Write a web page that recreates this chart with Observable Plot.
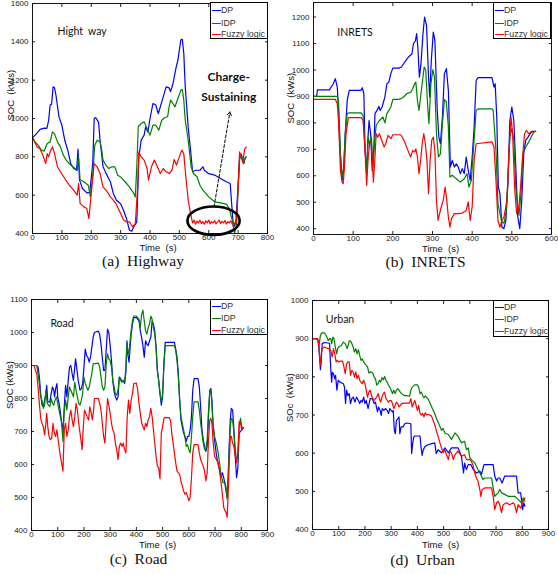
<!DOCTYPE html>
<html><head><meta charset="utf-8">
<script src="https://cdn.jsdelivr.net/npm/d3@7"></script>
<script src="https://cdn.jsdelivr.net/npm/@observablehq/plot@0.6"></script>
<style>
body{margin:0;background:#fff;}
#wrap{position:relative;width:558px;height:574px;overflow:hidden;background:#fff;}
.panel{position:absolute;}
.legend{position:absolute;background:#fff;border:1px solid #000;box-sizing:border-box;font:8.8px "Liberation Sans",Arial,sans-serif;color:#333;overflow:hidden;}
.legend .sw{position:absolute;height:0;border-top:1.3px solid;}
.legend .lb{position:absolute;line-height:10px;white-space:nowrap;}
</style></head>
<body><div id="wrap"></div>
<script>
// ---------------- data ----------------
const seriesNames = ["DP", "IDP", "Fuzzy logic"];
const seriesColors = ["#0000ff", "#008000", "#ff0000"];

// (a) Highway : [time s, SOC kWs]
const hwDP = [[0,900],[10,915],[26,943],[40,950],[49,948],[55,990],[60,1070],[65,1075],[70,1165],[75,1160],[80,1120],[90,1010],[100,965],[110,885],[120,835],[130,765],[140,740],[150,730],[155,840],[160,680],[170,635],[185,612],[195,615],[205,765],[210,1000],[215,1005],[225,980],[230,885],[240,750],[250,715],[265,670],[275,610],[285,575],[300,555],[310,520],[320,478],[330,417],[338,412],[345,435],[355,460],[362,800],[370,887],[380,913],[385,955],[393,930],[400,1000],[410,1078],[420,1070],[428,1025],[435,1060],[445,1113],[455,1165],[465,1160],[470,1140],[478,1180],[488,1260],[495,1305],[505,1410],[510,1413],[515,1340],[520,1165],[530,955],[538,835],[545,722],[555,730],[570,730],[580,748],[585,730],[600,712],[620,705],[640,687],[660,670],[673,661],[684,431],[692,455],[700,650],[705,790],[710,815],[715,790],[719,765],[723,790],[727,800]];
const hwIDP = [[0,900],[10,875],[20,860],[30,835],[40,830],[50,870],[60,878],[68,930],[75,920],[85,878],[95,852],[105,809],[115,783],[130,757],[145,739],[152,730],[157,800],[162,680],[175,670],[190,652],[197,591],[205,704],[212,861],[220,887],[230,878],[235,843],[240,783],[250,757],[260,739],[270,748],[280,748],[290,704],[300,695],[315,670],[330,643],[345,609],[350,591],[355,748],[360,957],[370,974],[380,983],[390,948],[400,913],[410,965],[420,965],[430,939],[440,991],[450,1005],[460,1009],[465,1061],[470,1096],[478,1078],[485,1061],[495,1104],[505,1148],[510,1151],[515,1096],[520,991],[530,887],[540,748],[548,713],[560,696],[570,652],[580,626],[590,609],[600,591],[610,579],[620,565],[640,560],[660,553],[670,530],[680,470],[688,400],[695,452],[700,640],[705,790],[710,812],[715,790],[719,765],[723,790],[727,800]];
const hwFL = [[0,900],[10,870],[15,852],[25,843],[35,809],[45,765],[50,817],[55,800],[60,826],[68,852],[75,817],[85,748],[95,722],[110,687],[125,652],[140,626],[152,600],[157,661],[162,557],[175,539],[185,530],[192,478],[200,609],[210,765],[220,748],[230,713],[240,643],[255,617],[265,591],[275,574],[285,553],[300,504],[310,470],[320,461],[330,461],[340,435],[350,452],[358,643],[362,826],[370,800],[380,783],[390,739],[395,678],[405,748],[415,783],[425,748],[435,713],[445,739],[455,722],[465,713],[475,730],[482,786],[490,757],[500,800],[508,835],[515,817],[522,696],[530,574],[538,504],[545,455],[550,470],[555,448],[560,465],[565,455],[570,470],[575,452],[580,462],[585,448],[590,466],[595,455],[600,470],[605,450],[610,462],[615,455],[620,468],[625,450],[630,460],[635,470],[640,452],[645,463],[650,455],[655,468],[660,450],[665,462],[670,455],[675,466],[680,450],[685,460],[690,445],[695,478],[700,640],[705,826],[710,800],[716,770],[722,840],[728,850]];

// (b) INRETS
const inDP = [[0,900],[8,900],[10,925],[40,925],[50,948],[55,967],[60,935],[63,847],[68,671],[72,583],[76,620],[80,759],[85,885],[90,923],[120,923],[123,933],[127,910],[130,696],[134,608],[137,734],[140,809],[144,759],[148,620],[152,696],[155,835],[160,847],[165,862],[168,847],[173,860],[180,898],[185,948],[190,954],[195,986],[200,1007],[215,1007],[222,1011],[230,1030],[240,1050],[248,1060],[252,1100],[257,1110],[260,1137],[263,1087],[267,973],[271,1024],[276,1137],[280,1200],[285,1168],[290,973],[293,898],[297,1036],[302,1143],[306,1112],[312,847],[316,746],[320,721],[325,822],[330,986],[335,1005],[340,923],[345,633],[350,658],[355,633],[360,645],[365,633],[370,608],[375,627],[380,608],[385,671],[390,620],[395,583],[400,671],[405,784],[410,961],[415,971],[450,971],[455,935],[458,948],[462,822],[466,557],[470,532],[475,406],[480,400],[485,431],[490,570],[495,809],[500,860],[505,809],[510,633],[515,444],[520,400],[525,507],[530,683],[535,734],[540,744],[550,768],[560,768]];
const inIDP = [[0,900],[60,900],[63,885],[68,683],[72,595],[76,633],[80,759],[85,835],[90,838],[120,838],[125,828],[130,696],[134,620],[138,746],[141,721],[146,746],[150,633],[154,734],[158,790],[165,807],[175,822],[180,800],[185,835],[190,847],[195,860],[200,889],[215,889],[225,895],[235,910],[245,916],[250,929],[255,948],[258,954],[262,885],[266,847],[270,898],[275,961],[279,1011],[283,999],[288,860],[291,797],[296,948],[301,1001],[305,973],[310,759],[315,671],[320,683],[325,797],[330,888],[335,879],[340,784],[344,595],[350,602],[355,595],[360,589],[370,576],[380,589],[387,608],[392,557],[398,583],[403,696],[410,847],[415,853],[450,853],[453,847],[460,696],[465,494],[470,457],[475,425],[480,421],[485,457],[490,583],[495,746],[500,778],[505,734],[510,557],[515,482],[518,450],[523,532],[528,683],[535,709],[545,734],[555,765],[560,768]];
const inFL = [[0,889],[55,889],[60,872],[63,809],[68,620],[72,576],[75,570],[78,633],[82,759],[88,820],[120,820],[125,809],[130,696],[134,564],[138,671],[142,728],[146,721],[151,576],[155,671],[158,759],[162,746],[166,759],[172,734],[178,709],[182,721],[188,753],[195,740],[200,755],[220,755],[228,734],[238,696],[245,671],[250,696],[255,690],[258,702],[262,671],[266,608],[270,658],[274,721],[278,759],[282,721],[286,658],[290,532],[294,658],[298,734],[302,746],[306,696],[310,507],[314,431],[318,457],[322,482],[327,507],[332,557],[336,507],[340,444],[344,406],[348,438],[355,457],[365,457],[375,459],[385,469],[390,501],[395,431],[400,482],[405,658],[410,721],[450,728],[455,709],[460,583],[465,431],[470,406],[475,431],[480,444],[488,507],[493,696],[498,822],[502,759],[507,557],[512,457],[517,469],[522,557],[527,671],[532,759],[537,772],[542,759],[547,765],[560,768]];

// (c) Road
const rdDP = [[0,900],[20,900],[25,895],[30,865],[35,815],[40,780],[45,775],[55,815],[58,840],[62,790],[70,790],[75,815],[80,835],[85,825],[88,805],[92,830],[97,845],[100,805],[105,785],[110,760],[115,725],[120,705],[125,775],[130,840],[135,805],[140,855],[145,895],[150,900],[155,875],[160,855],[165,895],[168,920],[172,895],[178,855],[185,825],[190,830],[195,845],[200,895],[205,950],[210,930],[215,925],[220,910],[225,925],[230,955],[235,985],[240,1000],[255,1004],[260,995],[265,965],[270,925],[275,885],[280,885],[285,950],[290,1010],[295,1000],[300,960],[305,915],[310,855],[315,820],[320,805],[325,795],[330,805],[335,865],[340,860],[345,850],[350,855],[355,845],[360,880],[364,975],[368,930],[372,910],[376,955],[380,995],[385,1025],[390,1045],[400,1045],[410,1035],[415,1005],[420,985],[425,960],[430,925],[435,975],[440,965],[445,960],[450,975],[455,985],[460,1035],[465,1025],[470,1005],[475,955],[480,885],[485,855],[490,815],[495,780],[500,805],[505,905],[510,970],[545,970],[550,950],[555,925],[560,875],[565,795],[570,735],[575,715],[580,695],[585,685],[590,670],[595,685],[600,685],[605,705],[610,745],[615,825],[620,860],[635,860],[640,835],[645,775],[650,705],[655,675],[660,655],[665,640],[670,655],[675,745],[680,825],[684,830],[688,795],[692,725],[698,675],[705,630],[712,600],[718,580],[722,560],[728,575],[733,560],[738,540],[742,520],[746,500],[750,560],[754,655],[758,735],[762,770],[767,765],[772,705],[777,625],[782,560],[787,590],[792,695],[797,700],[802,705],[808,710]];
const rdIDP = [[0,900],[20,900],[25,875],[30,845],[35,805],[40,795],[45,770],[50,780],[55,825],[60,785],[65,780],[70,775],[75,800],[80,785],[85,780],[90,795],[95,805],[100,785],[105,765],[110,745],[115,725],[120,670],[125,765],[130,795],[135,765],[140,805],[145,835],[150,825],[155,815],[160,805],[165,850],[170,825],[175,805],[180,785],[185,780],[190,795],[195,815],[200,865],[205,845],[210,835],[215,825],[220,835],[225,855],[230,875],[235,905],[255,907],[260,895],[265,865],[270,835],[275,825],[280,835],[285,905],[290,935],[295,920],[300,915],[305,895],[310,855],[315,835],[320,815],[325,810],[330,825],[335,865],[340,855],[345,850],[350,855],[355,850],[360,895],[364,965],[368,945],[372,935],[376,975],[380,1005],[385,1035],[390,1050],[400,1050],[410,1040],[415,1015],[420,1055],[425,1068],[430,1035],[435,1005],[440,995],[445,1015],[450,1025],[455,1050],[460,1040],[465,1015],[470,995],[475,955],[480,885],[485,855],[490,815],[495,790],[500,815],[505,905],[510,960],[545,960],[550,945],[555,915],[560,865],[565,795],[570,745],[575,725],[580,705],[585,685],[590,655],[595,660],[600,645],[605,635],[610,685],[615,745],[620,790],[635,790],[640,765],[645,725],[650,695],[655,665],[660,645],[665,645],[670,675],[675,765],[680,825],[684,825],[688,785],[692,725],[698,685],[705,665],[712,635],[718,600],[722,575],[730,545],[738,545],[742,530],[746,495],[750,560],[754,645],[758,715],[762,740],[767,735],[772,695],[777,645],[782,615],[787,625],[792,715],[797,740],[802,715],[808,710]];
const rdFL = [[0,900],[10,900],[15,885],[20,875],[25,835],[30,785],[35,740],[40,725],[45,715],[50,690],[55,725],[58,755],[62,715],[67,685],[72,675],[77,680],[82,725],[87,695],[92,685],[97,705],[100,685],[105,655],[110,625],[115,605],[120,580],[125,705],[130,725],[135,685],[140,705],[145,745],[150,765],[155,735],[160,715],[165,745],[170,785],[175,765],[180,725],[185,695],[190,665],[193,645],[197,705],[202,765],[207,755],[212,745],[218,735],[222,775],[228,755],[232,735],[237,765],[240,800],[255,800],[260,785],[265,765],[270,725],[275,685],[280,665],[285,735],[290,800],[295,780],[300,755],[305,725],[310,705],[315,695],[320,665],[325,645],[330,615],[335,655],[340,665],[345,655],[350,665],[355,645],[360,635],[365,745],[370,795],[375,755],[380,795],[385,815],[390,845],[400,847],[405,825],[410,785],[415,755],[420,725],[425,715],[430,705],[435,725],[440,715],[445,735],[450,745],[455,770],[460,745],[465,705],[470,665],[475,625],[480,595],[485,590],[490,557],[495,695],[500,715],[505,740],[510,742],[525,742],[530,735],[535,695],[540,665],[545,635],[550,605],[555,580],[560,575],[565,570],[570,550],[575,535],[580,520],[585,510],[590,515],[595,505],[600,490],[605,500],[610,560],[615,635],[620,660],[635,660],[640,635],[645,615],[650,605],[655,595],[660,580],[665,550],[670,575],[675,675],[680,735],[684,740],[688,725],[692,675],[698,625],[705,615],[712,605],[718,580],[722,550],[728,510],[733,470],[738,460],[742,455],[746,440],[750,510],[754,605],[758,685],[762,685],[767,665],[772,655],[777,625],[782,605],[787,635],[792,730],[797,725],[802,705],[808,712]];

// (d) Urban
const ubDP = [[0,900],[15,900],[22,895],[27,852],[30,819],[33,839],[37,887],[45,890],[65,888],[70,817],[73,786],[76,812],[80,808],[85,795],[88,804],[93,765],[98,791],[105,786],[112,784],[118,782],[122,773],[126,730],[130,765],[135,751],[140,756],[145,730],[150,743],[155,747],[162,734],[168,747],[175,738],[180,730],[185,738],[190,734],[195,747],[200,730],[205,738],[212,717],[220,743],[228,743],[235,730],[240,734],[245,717],[248,708],[252,721],[258,712],[262,699],[266,717],[272,712],[278,717],[285,712],[290,704],[295,717],[300,712],[305,708],[308,712],[312,660],[316,651],[320,686],[325,690],[330,695],[333,651],[338,669],[345,669],[352,677],[360,679],[375,677],[378,599],[382,625],[386,642],[390,645],[410,645],[414,616],[418,594],[422,608],[428,616],[435,620],[441,622],[455,625],[466,627],[472,599],[479,609],[492,601],[505,614],[518,601],[530,614],[555,614],[568,592],[576,548],[580,574],[587,557],[594,570],[604,570],[613,557],[625,548],[638,553],[644,544],[654,570],[689,570],[695,540],[702,527],[708,535],[714,535],[723,522],[733,540],[778,540],[784,496],[794,496],[801,452],[806,470],[810,461]];
const ubIDP = [[0,900],[15,900],[20,895],[25,882],[30,908],[35,915],[45,915],[50,911],[55,904],[60,895],[65,900],[70,900],[73,887],[78,904],[82,900],[86,882],[92,860],[96,874],[100,878],[110,882],[118,891],[125,887],[132,874],[136,882],[140,894],[145,894],[150,887],[155,878],[160,865],[165,874],[170,860],[175,871],[180,856],[185,843],[190,847],[195,839],[200,834],[210,826],[215,810],[222,813],[230,810],[235,799],[240,795],[245,778],[250,782],[255,791],[260,786],[265,798],[270,792],[275,801],[280,791],[285,786],[290,778],[295,773],[300,765],[305,756],[310,765],[315,756],[320,765],[325,769],[330,765],[335,760],[340,756],[350,751],[360,751],[370,749],[375,765],[380,773],[390,779],[400,779],[405,773],[410,756],[415,760],[420,752],[425,745],[430,750],[435,746],[441,742],[450,728],[458,716],[466,704],[473,690],[479,682],[486,670],[492,660],[498,665],[505,653],[518,649],[530,636],[543,653],[555,644],[568,627],[580,631],[587,609],[594,614],[600,588],[606,583],[619,574],[631,557],[644,540],[650,531],[657,535],[683,535],[689,509],[695,487],[708,496],[714,505],[721,496],[733,492],[746,487],[771,487],[784,479],[797,470],[803,483],[810,474]];
const ubFL = [[0,900],[20,900],[25,878],[28,843],[31,830],[34,865],[38,874],[45,878],[55,875],[62,874],[70,869],[75,852],[80,874],[85,860],[90,839],[95,843],[100,839],[105,841],[115,841],[120,826],[125,808],[130,834],[135,839],[140,839],[145,804],[150,817],[155,813],[160,799],[165,813],[170,795],[175,804],[180,791],[185,786],[190,782],[195,791],[200,782],[205,765],[210,747],[215,760],[220,765],[225,751],[230,743],[235,738],[240,743],[245,747],[250,756],[255,743],[260,734],[265,747],[270,756],[275,760],[280,743],[285,738],[290,734],[295,738],[300,738],[305,730],[310,717],[315,725],[320,734],[325,730],[330,721],[335,725],[340,730],[350,731],[370,731],[375,743],[380,721],[385,730],[390,738],[395,725],[400,712],[405,725],[410,704],[415,700],[420,704],[425,695],[430,706],[435,700],[441,702],[454,697],[466,675],[473,657],[479,644],[486,627],[492,614],[498,601],[505,609],[511,596],[518,583],[524,605],[530,601],[537,583],[543,596],[555,605],[568,592],[580,596],[587,583],[600,583],[606,579],[613,566],[619,548],[625,535],[631,527],[638,505],[642,487],[647,505],[657,509],[683,509],[689,487],[695,452],[702,470],[708,474],[714,465],[721,444],[727,465],[740,470],[752,465],[765,470],[771,465],[778,444],[784,465],[794,456],[801,470],[810,483]];

// ticks
const ticks800 = [0,100,200,300,400,500,600,700,800];
const ticks600 = [0,100,200,300,400,500,600];
const ticks900 = [0,100,200,300,400,500,600,700,800,900];
const yTicksA = [400,600,800,1000,1200,1400,1600];
const yTicksB = [400,500,600,700,800,900,1000,1100,1200];
const yTicksC = [400,500,600,700,800,900,1000,1100];
const yTicksD = [400,500,600,700,800,900,1000];

// annotations (text in data units)
const notesA = [{t:85,v:1455,text:"Hight  way"}];
const boldA = [{t:668,v:1214,text:"Charge-"},{t:668,v:1110,text:"Sustaining"}];
const notesB = [{t:60,v:1142,text:"INRETS"}];
const notesC = [{t:72,v:1027,text:"Road"}];
const notesD = [{t:51,v:950,text:"Urban"}];
const arrowA = [{x1:618,y1:539,x2:672,y2:1035}];
const ellipseA = {t:618,v:464,rt:89,rv:74};

// ---------------- drawing ----------------
const wrap = document.getElementById("wrap");
const sans = "'Liberation Sans', Arial, sans-serif";
const serif = "'Liberation Serif', 'Times New Roman', serif";
const noteFont = "Lato, 'Open Sans', sans-serif";
const fmt = d => String(d);

function makePanel(p) {
  const rows = [p.dp, p.idp, p.fl].flatMap((arr, i) => arr.map(([t, v]) => ({t, v, s: seriesNames[i]})));
  const plot = Plot.plot({
    width: 279, height: 287,
    marginLeft: p.m[0], marginRight: p.m[1], marginTop: p.m[2], marginBottom: p.m[3],
    style: {fontFamily: sans, fontSize: "8px", background: "transparent", overflow: "visible", color: "#222"},
    x: {domain: p.xd},
    y: {domain: p.yd},
    color: {domain: seriesNames, range: seriesColors},
    marks: [
      Plot.axisX({ticks: p.xt, tickSize: -3, tickPadding: 4, tickFormat: fmt, label: null, fontSize: 8}),
      Plot.axisX({anchor: "top", ticks: p.xt, tickSize: -3, tickFormat: () => "", label: null}),
      Plot.axisY({ticks: p.yt, tickSize: -3, tickPadding: 7, tickFormat: fmt, label: null, fontSize: 8}),
      Plot.axisY({anchor: "right", ticks: p.yt, tickSize: -3, tickFormat: () => "", label: null}),
      Plot.line(rows, {x: "t", y: "v", z: "s", stroke: "s", strokeWidth: 1.2}),
      Plot.frame({stroke: "#000", strokeWidth: 0.9}),
      Plot.text(p.notes, {x: "t", y: "v", text: "text", fontSize: 10.5, textAnchor: "start", fontFamily: noteFont, fill: "#111"}),
      Plot.text([p.xlabel], {frameAnchor: "bottom", dx: p.xl[0], dy: p.xl[1], fontSize: 9.5, fill: "#111"}),
      Plot.text([p.ylabel], {frameAnchor: "left", dx: p.yl[0], dy: p.yl[1], rotate: -90, fontSize: 9.5, fill: "#111"}),
      Plot.text([p.caption], {frameAnchor: "bottom", dx: p.cap[0], dy: p.cap[1], fontSize: 15.5, fontFamily: serif, fill: "#111"}),
      ...(p.extra || [])
    ]
  });
  const div = document.createElement("div");
  div.className = "panel";
  div.style.left = p.pos[0] + "px";
  div.style.top = p.pos[1] + "px";
  div.appendChild(plot);
  wrap.appendChild(div);
  return plot;
}

function makeLegend(l) {
  const box = document.createElement("div");
  box.className = "legend";
  Object.assign(box.style, {left: l.x + "px", top: l.y + "px", width: l.w + "px", height: l.h + "px"});
  seriesNames.forEach((name, i) => {
    const sw = document.createElement("div");
    sw.className = "sw";
    Object.assign(sw.style, {left: "1px", width: "9px", top: (l.rows[i]) + "px", borderTopColor: seriesColors[i]});
    const lb = document.createElement("div");
    lb.className = "lb";
    lb.textContent = name;
    Object.assign(lb.style, {left: "10px", top: (l.rows[i] - 5) + "px"});
    box.appendChild(sw); box.appendChild(lb);
  });
  wrap.appendChild(box);
}

const plotA = makePanel({
  dp: hwDP, idp: hwIDP, fl: hwFL, xd: [0, 800], yd: [400, 1600], xt: ticks800, yt: yTicksA,
  m: [32, 12, 3, 54], pos: [0, 0], notes: notesA,
  xlabel: "Time  (s)", xl: [8, 17.5], ylabel: "SOC  (kWs)", yl: [-22, 2], caption: "(a)  Highway", cap: [-7, 32.5],
  extra: [
    Plot.arrow(arrowA, {x1: "x1", y1: "y1", x2: "x2", y2: "y2", stroke: "#000", strokeWidth: 1, strokeDasharray: "3,2", headLength: 6}),
    Plot.text(boldA, {x: "t", y: "v", text: "text", fontSize: 12, fontWeight: "bold", textAnchor: "middle", fontFamily: noteFont, fill: "#111"})
  ]
});
const plotB = makePanel({
  dp: inDP, idp: inIDP, fl: inFL, xd: [0, 600], yd: [378, 1255], xt: ticks600, yt: yTicksB,
  m: [34, 7, 2, 53], pos: [279, 0], notes: notesB,
  xlabel: "Time  (s)", xl: [8, 17], ylabel: "SOC  (kWs)", yl: [-23, 5], caption: "(b)  INRETS", cap: [-7, 32.5]
});
const plotC = makePanel({
  dp: rdDP, idp: rdIDP, fl: rdFL, xd: [0, 900], yd: [400, 1100], xt: ticks900, yt: yTicksC,
  m: [31, 12, 12, 44], pos: [0, 287], notes: notesC,
  xlabel: "Time  (s)", xl: [8, 17.5], ylabel: "SOC (kWs)", yl: [-22, -6], caption: "(c)  Road", cap: [-11, 33]
});
const plotD = makePanel({
  dp: ubDP, idp: ubIDP, fl: ubFL, xd: [0, 900], yd: [400, 1000], xt: ticks900, yt: yTicksD,
  m: [33, 10, 13, 45], pos: [279, 287], notes: notesD,
  xlabel: "Time  (s)", xl: [10, 18], ylabel: "SOc  (kWs)", yl: [-23, 7], caption: "(d)  Urban", cap: [-8, 35.5]
});

// ellipse around the charge-sustaining zone, placed through panel (a) scales
{
  const sx = plotA.scale("x"), sy = plotA.scale("y");
  const cx = sx.apply(ellipseA.t), cy = sy.apply(ellipseA.v);
  const rx = Math.abs(sx.apply(ellipseA.t + ellipseA.rt) - cx);
  const ry = Math.abs(sy.apply(ellipseA.v + ellipseA.rv) - cy);
  d3.select(plotA).append("ellipse")
    .attr("cx", cx).attr("cy", cy).attr("rx", rx).attr("ry", ry)
    .attr("fill", "none").attr("stroke", "#000").attr("stroke-width", 2.6);
}

makeLegend({x: 210, y: 2, w: 58, h: 37, rows: [7, 19.5, 31]});
makeLegend({x: 493, y: 2, w: 58, h: 37, rows: [7, 19.5, 31]});
makeLegend({x: 210, y: 299, w: 58, h: 36, rows: [6, 17.5, 30]});
makeLegend({x: 493, y: 300, w: 56, h: 37, rows: [6, 17.5, 30]});
</script>
</body></html>
